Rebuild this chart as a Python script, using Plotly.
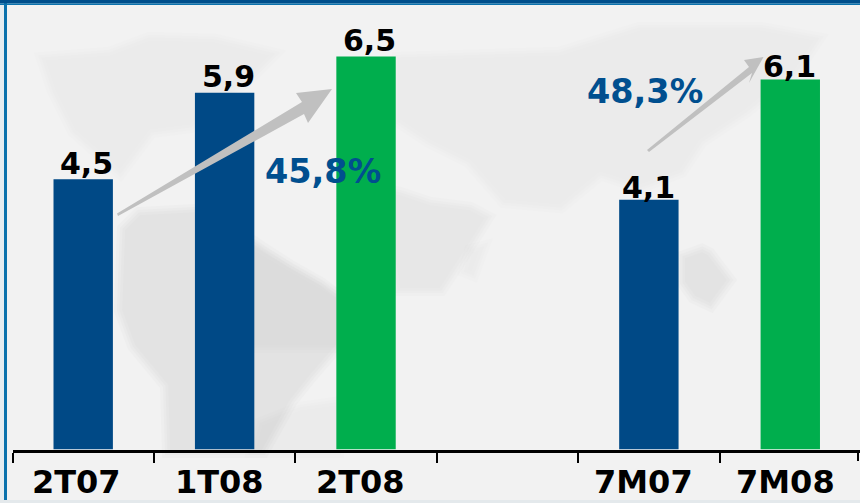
import plotly.graph_objects as go

W, H = 860, 503
categories = ["2T07", "1T08", "2T08", " ", "7M07", "7M08"]
values = [4.47, 5.9, 6.5, None, 4.13, 6.12]
value_labels = ["4,5", "5,9", "6,5", "", "4,1", "6,1"]
bar_colors = ["#004986", "#004986", "#00ae4d", "#004986", "#004986", "#00ae4d"]
growth_labels = ["45,8%", "48,3%"]

label_xshift = [3.5, 3.5, 3.5, 0, -0.5, -0.5]
label_yshift = [-3.5, -3.5, -3.5, 0, -6.7, -6.7]
cat_xshift = [-6.5, -5, -6, 0, -5, -5]


def path(points):
    return "M " + " L ".join(f"{x/W:.5f},{1-y/H:.5f}" for x, y in points) + " Z"


def poly(points, color, opacity=1.0):
    return dict(type="path", path=path(points), xref="paper", yref="paper",
                fillcolor=color, opacity=opacity, line=dict(width=0), layer="below")


def soft(points, darkness):
    """A faint map shape with a blurred edge, from stacked translucent outlines."""
    out = []
    widths = [16, 10, 5, 0]
    for w in widths:
        s = poly(points, "#000000", darkness / len(widths))
        s["line"] = dict(width=w, color="#000000")
        out.append(s)
    return out


def rect(x0, y0, x1, y1, color, layer="below"):
    return dict(type="rect", xref="paper", yref="paper", x0=x0/W, x1=x1/W,
                y0=1-y0/H, y1=1-y1/H, fillcolor=color, line=dict(width=0), layer=layer)


shapes = [rect(0, 0, W, H, "#f2f2f2"), rect(0, 0, 5, H, "#e6edf1")]
shapes += soft([(45, 60), (110, 55), (150, 40), (215, 42), (270, 55), (245, 80), (215, 100), (190, 125),
                (150, 130), (120, 170), (75, 130), (55, 90)], 0.012)
shapes += soft([(125, 230), (140, 215), (195, 212), (230, 228), (262, 250), (290, 268), (320, 285), (336, 297),
                (336, 345), (310, 375), (290, 400), (262, 450), (170, 450), (168, 385), (135, 345), (122, 310)], 0.05)
shapes += soft([(254, 250), (285, 268), (336, 297), (336, 345), (254, 345)], 0.012)
shapes += soft([(262, 425), (300, 410), (336, 405), (336, 450), (255, 450)], 0.02)
shapes += soft([(345, 185), (400, 195), (430, 205), (470, 210), (485, 218), (465, 250), (440, 288), (400, 288),
                (395, 255), (345, 225)], 0.035)
shapes += soft([(400, 60), (560, 55), (640, 30), (760, 30), (815, 40), (795, 70), (745, 110), (700, 140),
                (680, 170), (640, 185), (600, 172), (560, 205), (505, 200), (470, 160), (430, 140), (400, 120)], 0.012)
shapes += soft([(685, 258), (702, 252), (708, 255), (727, 280), (710, 303), (695, 296), (685, 282)], 0.04)
shapes += soft([(472, 252), (480, 250), (472, 272), (467, 270)], 0.02)
shapes += [
    # frame
    rect(4, 0, 7, 500, "#0b72ad"),
    rect(0, 0, W, 3.5, "#004f8c"),
    rect(0, 3.5, W, 5, "#0b72ad"),
    rect(0, 500, W, H, "#e4e9ec"),
    # last tick at the right edge of the axis
    dict(type="line", xref="paper", yref="paper", x0=858/W, x1=858/W, y0=1-450/H, y1=1-461/H,
         line=dict(color="#000000", width=2), layer="above"),
    # growth arrows
    dict(poly([(117, 213.5), (302, 102), (296, 93), (332, 89), (308, 123), (304, 114), (118, 216)],
              "#c0c0c0"), layer="above"),
    dict(poly([(647, 150), (749, 67), (744, 60), (763.5, 57), (749, 83), (752, 73), (649, 152)],
              "#c0c0c0"), layer="above"),
]

fig = go.Figure(go.Bar(
    x=categories, y=values, marker=dict(color=bar_colors, line=dict(width=0)), width=0.42,
    cliponaxis=False, hoverinfo="skip"))

pct_font = dict(family="DejaVu Sans", size=33.5, color="#004f8f", weight="bold")
annotations = [
    dict(text=growth_labels[0], xref="paper", yref="paper", x=322.5/W, y=1-171/H, showarrow=False,
         xanchor="center", yanchor="middle", font=pct_font),
    dict(text=growth_labels[1], xref="paper", yref="paper", x=645/W, y=1-91.5/H, showarrow=False,
         xanchor="center", yanchor="middle", font=pct_font),
]
for cat, val, lab, xs, ys, cs in zip(categories, values, value_labels, label_xshift, label_yshift, cat_xshift):
    if val is not None:
        annotations.append(dict(text=lab, x=cat, y=val, xref="x", yref="y", xanchor="center", yanchor="bottom",
                                xshift=xs, yshift=ys, showarrow=False,
                                font=dict(family="DejaVu Sans", size=30, color="#000000", weight="bold")))
    if cat.strip():
        annotations.append(dict(text=cat, x=cat, y=1-482/H, xref="x", yref="paper", xanchor="center",
                                yanchor="middle", xshift=cs, showarrow=False,
                                font=dict(family="DejaVu Sans", size=32, color="#000000", weight="bold")))

fig.update_layout(
    width=W, height=H, margin=dict(l=0, r=0, t=0, b=0), autosize=False,
    paper_bgcolor="#f2f2f2", plot_bgcolor="rgba(0,0,0,0)", showlegend=False,
    shapes=shapes, annotations=annotations,
    xaxis=dict(type="category", categoryorder="array", categoryarray=categories,
               domain=[12.5/W, 1], range=[-0.5, 5.493], tickson="boundaries", ticks="outside",
               ticklen=10, tickwidth=2, tickcolor="#000000", showline=True, linecolor="#000000",
               linewidth=3, showgrid=False, zeroline=False, showticklabels=False),
    yaxis=dict(domain=[(H-449.5)/H, 1], range=[0, 449.5/60.45], visible=False, showgrid=False, zeroline=False),
)
fig.write_html("out.html", config=dict(displayModeBar=False),
               post_script="document.body.style.margin='0';document.body.style.overflow='hidden';")
